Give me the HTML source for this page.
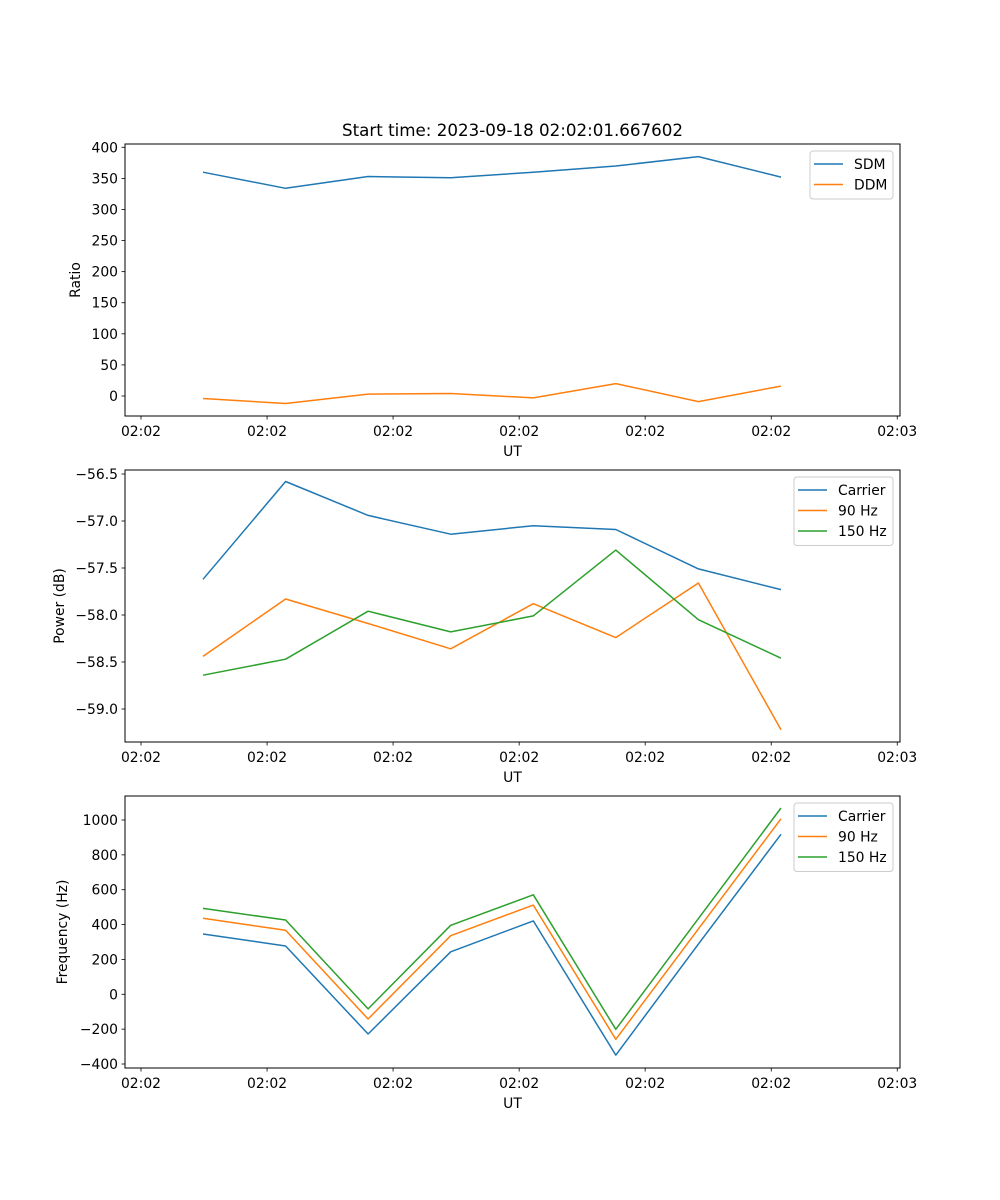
<!DOCTYPE html>
<html><head><meta charset="utf-8"><style>
html,body{margin:0;padding:0;background:#fff;}
svg{display:block;font-family:"DejaVu Sans","Liberation Sans",sans-serif;}
</style></head><body>
<svg id="fig" width="1000" height="1200" viewBox="0 0 1000 1200">
<text x="512.5" y="136" font-size="16.7" text-anchor="middle">Start time: 2023-09-18 02:02:01.667602</text>
</svg>
<script>
const xTickLabels = ["02:02","02:02","02:02","02:02","02:02","02:02","02:03"];
const xTickIdx = [-0.751, 0.776, 2.302, 3.829, 5.355, 6.882, 8.408];
const sdm = [360, 334, 353, 351, 360, 370, 385, 352];
const ddm = [-4, -12, 3, 4, -3, 20, -9, 16];
const pCarrier = [-57.62, -56.58, -56.94, -57.14, -57.05, -57.09, -57.51, -57.73];
const p90 = [-58.44, -57.83, -58.09, -58.36, -57.88, -58.24, -57.66, -59.22];
const p150 = [-58.64, -58.47, -57.96, -58.18, -58.01, -57.31, -58.05, -58.46];
const fCarrier = [346, 277, -228, 244, 421, -349, 288, 918];
const f90 = [436, 367, -142, 336, 512, -258, 375, 1007];
const f150 = [493, 426, -84, 396, 571, -201, 434, 1069];
const ticks1 = [0,50,100,150,200,250,300,350,400];
const ticks2 = [-59.0,-58.5,-58.0,-57.5,-57.0,-56.5];
const ticks3 = [-400,-200,0,200,400,600,800,1000];

const NS="http://www.w3.org/2000/svg";
const svg=document.getElementById('fig');
const L=125, R=900;
function xs(i){ return 203 + i*82.57; }
function mk(tag, attrs, parent){ const e=document.createElementNS(NS,tag); for(const k in attrs) e.setAttribute(k,attrs[k]); (parent||svg).appendChild(e); return e; }
const C={blue:"#1f77b4",orange:"#ff7f0e",green:"#2ca02c"};

function panel(name, top, bottom, yv0, yp0, yv1, yp1, yticks, fmt, ylabel, series, legend){
  const g=mk('g',{});
  
  
  const ys=v=> yp0 + (v-yv0)*(yp1-yp0)/(yv1-yv0);
  series.forEach(s=>{
    const pts=s.data.map((v,i)=>xs(i).toFixed(1)+','+ys(v).toFixed(1)).join(' ');
    const pl=mk('polyline',{points:pts,fill:'none',stroke:s.color,'stroke-width':1.5,'stroke-linejoin':'round'},g);
    
    
  });
  const fr=mk('rect',{x:L,y:top,width:R-L,height:bottom-top,fill:'none',stroke:'#000','stroke-width':1},g);
  
  
  yticks.forEach(v=>{
    const y=ys(v);
    mk('line',{x1:L-3.5,x2:L,y1:y,y2:y,stroke:'#000','stroke-width':0.8},g);
    const t=mk('text',{x:L-7,y:y+5,'font-size':13.9,'text-anchor':'end'},g);
    t.textContent=fmt(v);
    
    
  });
  xTickIdx.forEach((ti,k)=>{
    const x=xs(ti);
    mk('line',{x1:x,x2:x,y1:bottom,y2:bottom+3.5,stroke:'#000','stroke-width':0.8},g);
    const t=mk('text',{x:x,y:bottom+20,'font-size':13.9,'text-anchor':'middle'},g);
    t.textContent=xTickLabels[k];
    
    
  });
  const xl=mk('text',{x:512.5,y:bottom+40,'font-size':13.9,'text-anchor':'middle'},g);
  xl.textContent='UT';
  
  
  const yc=(top+bottom)/2;
  const yl=mk('text',{x:0,y:0,'font-size':13.9,'text-anchor':'middle',transform:`translate(${legend.ylx},${yc}) rotate(-90)`},g);
  yl.textContent=ylabel;
  
  
  const lg=mk('g',{},g);
  
  
  const lh=series.length*20.5+7;
  mk('rect',{x:legend.x,y:top+7,width:R-7-legend.x,height:lh,rx:3,fill:'#fff','fill-opacity':0.8,stroke:'#ccc','stroke-width':1},lg);
  series.forEach((s,i)=>{
    const y=top+7+13+i*20.5;
    mk('line',{x1:legend.x+4,x2:legend.x+33,y1:y,y2:y,stroke:s.color,'stroke-width':1.5},lg);
    const t=mk('text',{x:legend.x+44,y:y+5,'font-size':13.9},lg);
    t.textContent=s.label;
    
    
  });
}
panel('ratio',144,416,0,396,400,147.3,ticks1,v=>String(v),'Ratio',
  [{key:'sdm',label:'SDM',data:sdm,color:C.blue},{key:'ddm',label:'DDM',data:ddm,color:C.orange}],{x:810,ylx:80});
panel('power',470,742,-56.5,474,-59.0,709,ticks2,v=>'\u2212'+Math.abs(v).toFixed(1),'Power (dB)',
  [{key:'carrier',label:'Carrier',data:pCarrier,color:C.blue},{key:'90hz',label:'90 Hz',data:p90,color:C.orange},{key:'150hz',label:'150 Hz',data:p150,color:C.green}],{x:794,ylx:64});
panel('frequency',796,1068,1000,820,-400,1064,ticks3,v=>(v<0?'\u2212'+Math.abs(v):String(v)),'Frequency (Hz)',
  [{key:'carrier',label:'Carrier',data:fCarrier,color:C.blue},{key:'90hz',label:'90 Hz',data:f90,color:C.orange},{key:'150hz',label:'150 Hz',data:f150,color:C.green}],{x:794,ylx:67});
</script>
</body></html>
